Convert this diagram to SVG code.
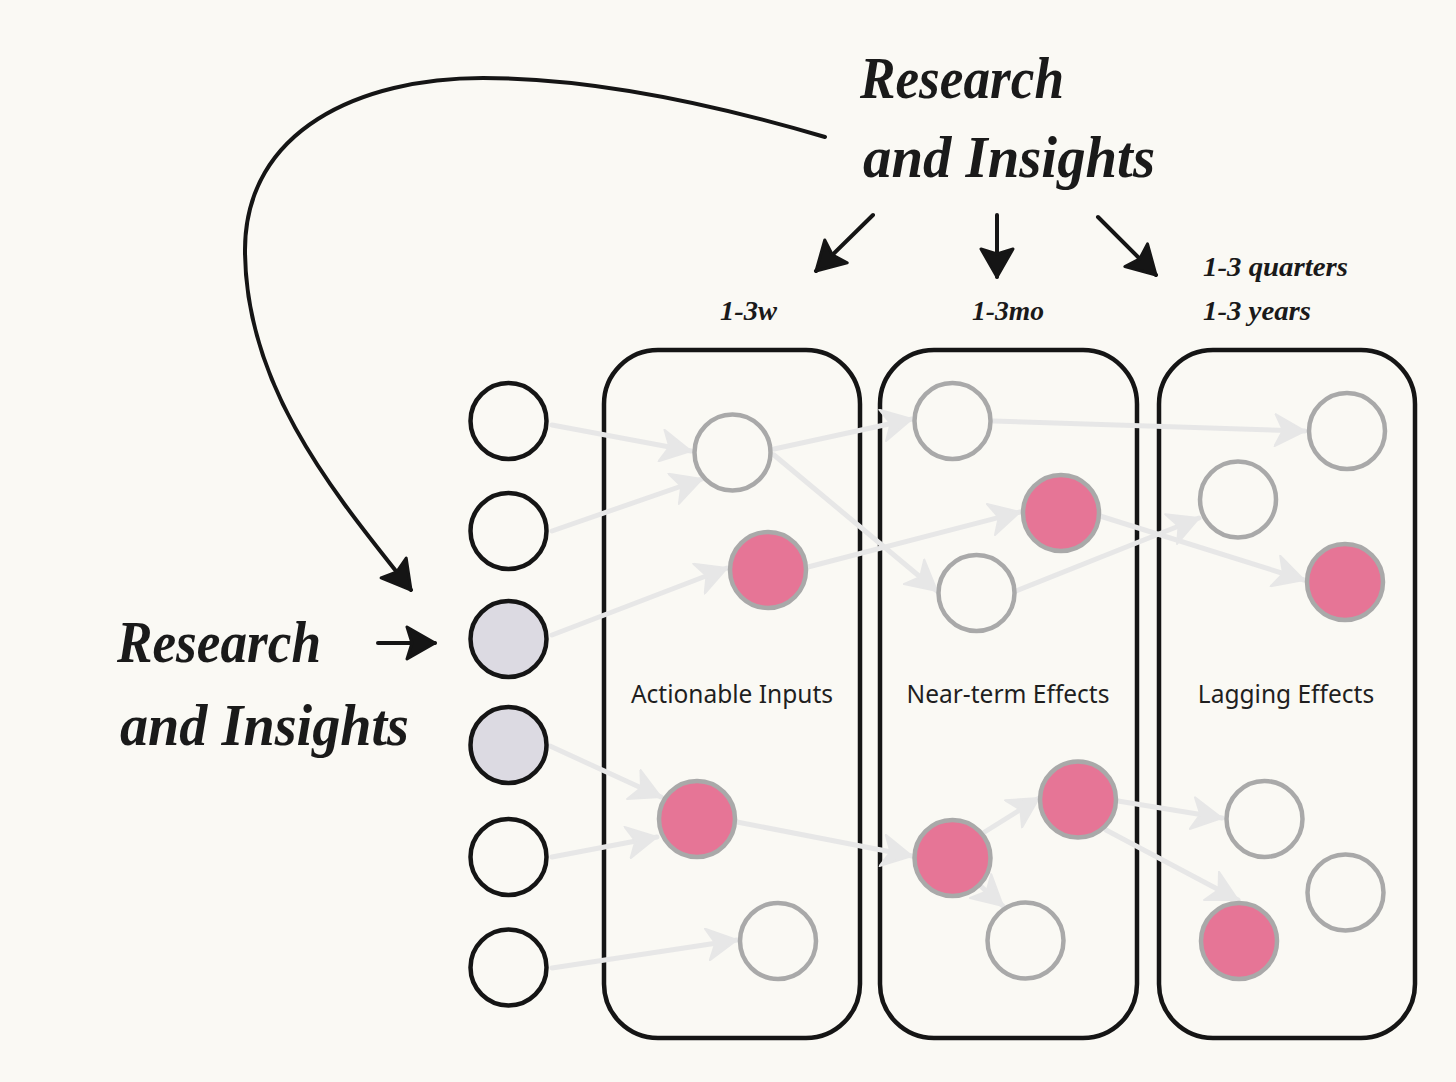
<svg xmlns="http://www.w3.org/2000/svg" width="1456" height="1082" viewBox="0 0 1456 1082">
<style>
.box{fill:none;stroke:#151515;stroke-width:4.5}
.src{stroke:#151515;stroke-width:4.5}
.src-w{fill:#faf9f4}
.src-g{fill:#dcdae2}
.nd{stroke:#a9a9a9;stroke-width:4.5}
.nd-w{fill:#faf9f4}
.nd-p{fill:#e67596}
.conn{fill:none;stroke:#e7e7e7;stroke-width:5;stroke-linecap:round}
.blk{fill:none;stroke:#151515;stroke-width:4;stroke-linecap:round}
.hand{font-family:"Liberation Serif","DejaVu Serif",serif;font-style:italic;font-weight:bold;fill:#1a1a1a}
.lbl{font-family:"Noto Sans","Open Sans",sans-serif;font-size:24.5px;fill:#1f1f1f;text-anchor:middle}
</style>
<defs>
<marker id="ga" viewBox="0 0 32 34" markerWidth="32" markerHeight="34" refX="31" refY="17" orient="auto" markerUnits="userSpaceOnUse">
<path d="M1,1 L31,17 L1,33 L9,17 Z" fill="#e7e7e7" stroke="#e7e7e7" stroke-width="2" stroke-linejoin="round"/>
</marker>
<marker id="ba" viewBox="0 0 32 36" markerWidth="32" markerHeight="36" refX="30" refY="18" orient="auto" markerUnits="userSpaceOnUse">
<path d="M2,2 L30,18 L2,34 L7,18 Z" fill="#151515" stroke="#151515" stroke-width="3" stroke-linejoin="round"/>
</marker>
</defs>
<rect width="1456" height="1082" fill="#faf9f4"/>

<g id="box-actionable">
<rect class="box" x="604" y="350" width="256" height="688" rx="54"/>
<text class="lbl" x="732" y="703">Actionable Inputs</text>
</g>
<g id="box-nearterm">
<rect class="box" x="880" y="350" width="257" height="688" rx="54"/>
<text class="lbl" x="1008" y="703">Near-term Effects</text>
</g>
<g id="box-lagging">
<rect class="box" x="1159" y="350" width="256" height="688" rx="54"/>
<text class="lbl" x="1286" y="703">Lagging Effects</text>
</g>

<g id="connectors">
<line class="conn" x1="552" y1="425" x2="691" y2="451" marker-end="url(#ga)"/>
<line class="conn" x1="552" y1="531" x2="702" y2="479" marker-end="url(#ga)"/>
<line class="conn" x1="552" y1="635" x2="727" y2="568" marker-end="url(#ga)"/>
<line class="conn" x1="550" y1="746" x2="661" y2="797" marker-end="url(#ga)"/>
<line class="conn" x1="552" y1="857" x2="657" y2="837" marker-end="url(#ga)"/>
<line class="conn" x1="552" y1="968" x2="737" y2="940" marker-end="url(#ga)"/>
<line class="conn" x1="774" y1="449" x2="912" y2="419" marker-end="url(#ga)"/>
<line class="conn" x1="774" y1="455" x2="937" y2="591" marker-end="url(#ga)"/>
<line class="conn" x1="808" y1="567" x2="1020" y2="512" marker-end="url(#ga)"/>
<line class="conn" x1="993" y1="421" x2="1305" y2="431" marker-end="url(#ga)"/>
<line class="conn" x1="1100" y1="516" x2="1304" y2="580" marker-end="url(#ga)"/>
<line class="conn" x1="1016" y1="591" x2="1199" y2="518" marker-end="url(#ga)"/>
<line class="conn" x1="737" y1="822" x2="912" y2="856" marker-end="url(#ga)"/>
<line class="conn" x1="983" y1="833" x2="1039" y2="798" marker-end="url(#ga)"/>
<line class="conn" x1="976" y1="882" x2="1003" y2="906" marker-end="url(#ga)"/>
<line class="conn" x1="1118" y1="801" x2="1222" y2="818" marker-end="url(#ga)"/>
<line class="conn" x1="1106" y1="830" x2="1238" y2="900" marker-end="url(#ga)"/>
<path class="blk" d="M825,137 C700,100 580,78 483,78 C360,78 245,130 245,250 C245,390 340,500 411,590" marker-end="url(#ba)"/>
<line class="blk" x1="378" y1="643" x2="435" y2="643" marker-end="url(#ba)"/>
<line class="blk" x1="873" y1="215" x2="816" y2="271" marker-end="url(#ba)"/>
<line class="blk" x1="997" y1="215" x2="997" y2="277" marker-end="url(#ba)"/>
<line class="blk" x1="1098" y1="217" x2="1156" y2="275" marker-end="url(#ba)"/>
</g>

<g id="sources">
<circle id="s1" class="src src-w" cx="508.5" cy="421" r="38"/>
<circle id="s2" class="src src-w" cx="508.5" cy="531" r="38"/>
<circle id="s3" class="src src-g" cx="508.5" cy="639" r="38"/>
<circle id="s4" class="src src-g" cx="508.5" cy="745" r="38"/>
<circle id="s5" class="src src-w" cx="508.5" cy="857" r="38"/>
<circle id="s6" class="src src-w" cx="508.5" cy="967.5" r="38"/>
</g>
<g id="nodes-actionable">
<circle id="a1" class="nd nd-w" cx="732.5" cy="452.5" r="38"/>
<circle id="a2" class="nd nd-p" cx="768" cy="570" r="38"/>
<circle id="a3" class="nd nd-p" cx="697" cy="819" r="38"/>
<circle id="a4" class="nd nd-w" cx="778" cy="941" r="38"/>
</g>
<g id="nodes-nearterm">
<circle id="b1" class="nd nd-w" cx="952.5" cy="421" r="38"/>
<circle id="b2" class="nd nd-p" cx="1061" cy="513" r="38"/>
<circle id="b3" class="nd nd-w" cx="976.5" cy="593" r="38"/>
<circle id="b4" class="nd nd-p" cx="952.5" cy="858" r="38"/>
<circle id="b5" class="nd nd-p" cx="1078" cy="799.5" r="38"/>
<circle id="b6" class="nd nd-w" cx="1025.5" cy="940.5" r="38"/>
</g>
<g id="nodes-lagging">
<circle id="c1" class="nd nd-w" cx="1347" cy="431" r="38"/>
<circle id="c2" class="nd nd-w" cx="1238" cy="499.5" r="38"/>
<circle id="c3" class="nd nd-p" cx="1345" cy="582" r="38"/>
<circle id="c4" class="nd nd-w" cx="1264.5" cy="819" r="38"/>
<circle id="c5" class="nd nd-w" cx="1345.5" cy="892.5" r="38"/>
<circle id="c6" class="nd nd-p" cx="1239" cy="941" r="38"/>
</g>

<g id="labels">
<text class="hand" x="860" y="98" font-size="60" textLength="204" lengthAdjust="spacingAndGlyphs">Research</text>
<text class="hand" x="863" y="177" font-size="60" textLength="292" lengthAdjust="spacingAndGlyphs">and Insights</text>
<text class="hand" x="117" y="662" font-size="60" textLength="204" lengthAdjust="spacingAndGlyphs">Research</text>
<text class="hand" x="120" y="745" font-size="60" textLength="289" lengthAdjust="spacingAndGlyphs">and Insights</text>
<text class="hand" x="720" y="320" font-size="28" textLength="57" lengthAdjust="spacingAndGlyphs">1-3w</text>
<text class="hand" x="972" y="320" font-size="28" textLength="72" lengthAdjust="spacingAndGlyphs">1-3mo</text>
<text class="hand" x="1203" y="276" font-size="28" textLength="145" lengthAdjust="spacingAndGlyphs">1-3 quarters</text>
<text class="hand" x="1203" y="320" font-size="28" textLength="108" lengthAdjust="spacingAndGlyphs">1-3 years</text>
</g>
</svg>
